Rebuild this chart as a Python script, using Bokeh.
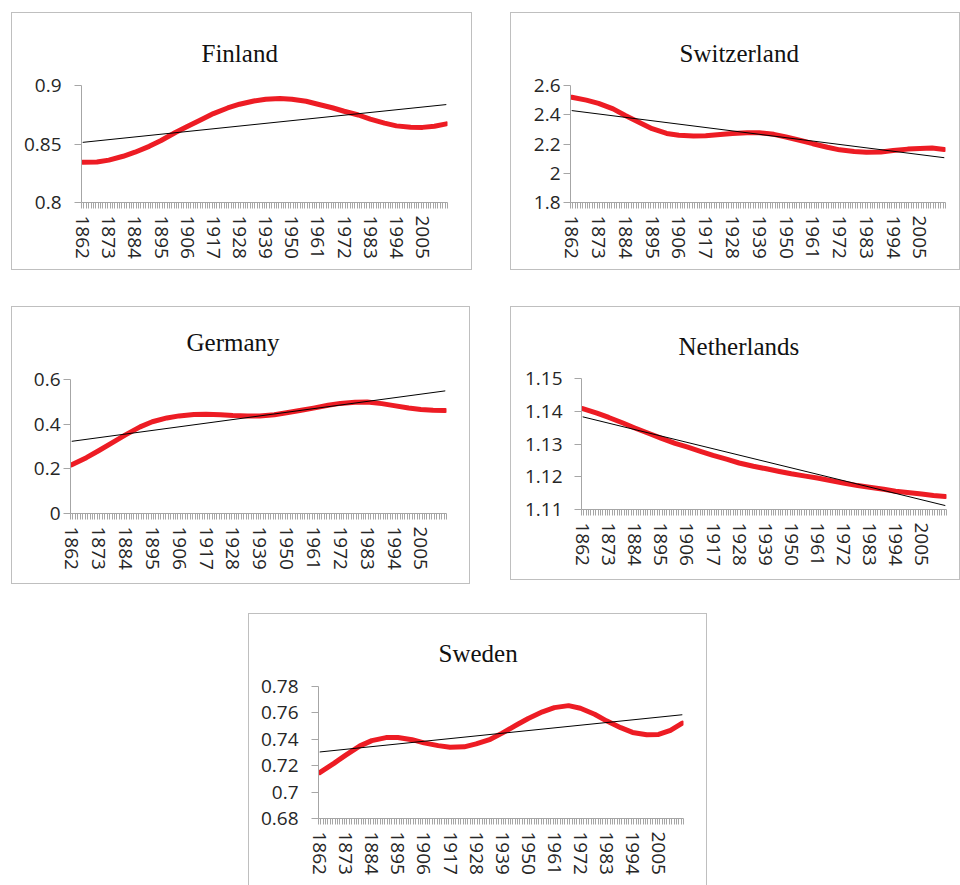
from bokeh.plotting import figure
from bokeh.models import Range1d, FixedTicker, Spacer, Label
from bokeh.layouts import row, column
from bokeh.embed import file_html
from bokeh.resources import INLINE

# ---------------- data ----------------
years = [1862, 1868, 1873, 1879, 1884, 1890, 1895, 1901, 1906, 1912, 1917, 1923,
         1928, 1934, 1939, 1945, 1950, 1956, 1961, 1967, 1972, 1978, 1983, 1989,
         1994, 2000, 2005, 2010, 2015]

finland = [0.8345, 0.8346, 0.8362, 0.8395, 0.8430, 0.8480, 0.8530, 0.8598, 0.8650,
           0.8710, 0.8760, 0.8808, 0.8840, 0.8868, 0.8883, 0.8888, 0.8883, 0.8865,
           0.8840, 0.8810, 0.8780, 0.8748, 0.8712, 0.8678, 0.8655, 0.8643, 0.8642,
           0.8652, 0.8672]

switzerland = [2.520, 2.500, 2.478, 2.440, 2.395, 2.345, 2.305, 2.272, 2.260, 2.255,
               2.257, 2.265, 2.272, 2.277, 2.277, 2.266, 2.248, 2.224, 2.202, 2.178,
               2.160, 2.148, 2.144, 2.146, 2.155, 2.165, 2.170, 2.172, 2.163]

germany = [0.218, 0.250, 0.281, 0.320, 0.352, 0.388, 0.411, 0.428, 0.437, 0.443,
           0.444, 0.442, 0.439, 0.437, 0.437, 0.442, 0.451, 0.462, 0.472, 0.485,
           0.493, 0.498, 0.499, 0.492, 0.483, 0.472, 0.466, 0.462, 0.461]

netherlands = [1.1408, 1.1394, 1.1381, 1.1364, 1.1349, 1.1332, 1.1318, 1.1302, 1.1291,
               1.1277, 1.1265, 1.1253, 1.1242, 1.1232, 1.1225, 1.1216, 1.1209, 1.1202,
               1.1196, 1.1188, 1.1181, 1.1173, 1.1168, 1.1162, 1.1156, 1.1151, 1.1147,
               1.1143, 1.1140]

sweden = [0.7148, 0.7218, 0.7280, 0.7350, 0.7390, 0.7413, 0.7414, 0.7397, 0.7373,
          0.7352, 0.7340, 0.7343, 0.7365, 0.7400, 0.7447, 0.7508, 0.7558, 0.7608,
          0.7640, 0.7655, 0.7635, 0.7590, 0.7540, 0.7488, 0.7452, 0.7434, 0.7437,
          0.7468, 0.7523]

trend_years = [1862, 2015]
finland_trend = [0.8514, 0.8837]
switzerland_trend = [2.4286, 2.1063]
germany_trend = [0.3232, 0.5491]
netherlands_trend = [1.1383, 1.1112]
sweden_trend = [0.7304, 0.7586]

first_year, last_year = 1862, 2015
label_years = [1862, 1873, 1884, 1895, 1906, 1917, 1928, 1939, 1950, 1961, 1972,
               1983, 1994, 2005]

finland_ticks = [0.8, 0.85, 0.9]
finland_tick_labels = ["0.8", "0.85", "0.9"]
switzerland_ticks = [1.8, 2.0, 2.2, 2.4, 2.6]
switzerland_tick_labels = ["1.8", "2", "2.2", "2.4", "2.6"]
germany_ticks = [0.0, 0.2, 0.4, 0.6]
germany_tick_labels = ["0", "0.2", "0.4", "0.6"]
netherlands_ticks = [1.11, 1.12, 1.13, 1.14, 1.15]
netherlands_tick_labels = ["1.11", "1.12", "1.13", "1.14", "1.15"]
sweden_ticks = [0.68, 0.70, 0.72, 0.74, 0.76, 0.78]
sweden_tick_labels = ["0.68", "0.7", "0.72", "0.74", "0.76", "0.78"]

# ---------------- styling ----------------
RED = "#ED1C24"
AXIS = "#a6a6a6"
LABEL = "#262626"
BOX = "#bfbfbf"
TICK_FONT = "Open Sans"
TICK_SIZE = "19px"
TITLE_FONT = "Liberation Serif"

boundaries = [first_year - 0.5 + i for i in range(last_year - first_year + 2)]


def panel(name, values, trend, yticks, ylabels, box, plot, ystand, title_pos):
    # box: figure (x0, y0, x1, y1) in page px; plot: data area (left, top, right, bottom)
    x0, y0, x1, y1 = box
    fl, ft, fr, fb = plot
    w, h = x1 - x0, y1 - y0
    lo, hi = yticks[0], yticks[-1]
    # frame reaches the top of the panel so the title can sit inside it;
    # the axis itself is bounded to the data range
    y_end = lo + (hi - lo) * (fb - y0) / (fb - ft)
    p = figure(width=w, height=h, output_backend="svg", toolbar_location=None,
               x_range=Range1d(first_year - 0.5, last_year + 0.5),
               y_range=Range1d(lo, y_end),
               min_border_left=fl - x0, min_border_right=x1 - fr,
               min_border_top=0, min_border_bottom=y1 - fb,
               background_fill_color="white", border_fill_color="white",
               styles={"box-shadow": "0 0 0 1px " + BOX})
    p.grid.visible = False
    p.outline_line_color = None

    p.line(years, values, line_width=5, color=RED, line_cap="round", line_join="round")
    p.line(trend_years, trend, line_width=1, color="black")

    tx, ty = title_pos
    p.add_layout(Label(x=tx - fl, y=fb - ty, x_units="screen", y_units="screen",
                       text=name, text_font=TITLE_FONT, text_font_size="25px",
                       text_color="#111111", text_align="left",
                       text_baseline="alphabetic"))

    xa = p.xaxis[0]
    xa.ticker = FixedTicker(ticks=label_years, minor_ticks=boundaries)
    xa.major_tick_out = 0
    xa.major_tick_in = 0
    xa.minor_tick_out = 6
    xa.minor_tick_in = 0
    xa.minor_tick_line_color = AXIS
    xa.axis_line_color = AXIS
    xa.major_label_orientation = "vertical"
    xa.major_label_standoff = 7
    xa.major_label_text_font = TICK_FONT
    xa.major_label_text_font_size = TICK_SIZE
    xa.major_label_text_color = LABEL

    ya = p.yaxis[0]
    ya.bounds = (lo, hi)
    ya.ticker = FixedTicker(ticks=yticks)
    ya.major_label_overrides = {t: s for t, s in zip(yticks, ylabels)}
    ya.major_tick_out = 7
    ya.major_tick_in = 0
    ya.minor_tick_out = 0
    ya.minor_tick_in = 0
    ya.major_tick_line_color = AXIS
    ya.axis_line_color = AXIS
    ya.major_label_standoff = ystand
    ya.major_label_text_font = TICK_FONT
    ya.major_label_text_font_size = TICK_SIZE
    ya.major_label_text_color = LABEL
    return p


p1 = panel("Finland", finland, finland_trend, finland_ticks, finland_tick_labels,
           (12, 13, 471, 269), (81, 85, 447, 202), 13, (201, 53))
p2 = panel("Switzerland", switzerland, switzerland_trend, switzerland_ticks,
           switzerland_tick_labels,
           (511, 13, 959, 269), (570, 85, 945, 202), 3, (679, 53))
p3 = panel("Germany", germany, germany_trend, germany_ticks, germany_tick_labels,
           (12, 307, 469, 583), (70, 379, 446, 513), 3, (186, 342))
p4 = panel("Netherlands", netherlands, netherlands_trend, netherlands_ticks,
           netherlands_tick_labels,
           (511, 307, 959, 579), (581, 378, 946, 509), 12, (678, 346))
p5 = panel("Sweden", sweden, sweden_trend, sweden_ticks, sweden_tick_labels,
           (249, 614, 706, 885), (318, 686, 683, 818), 13, (438, 653))

layout = column(
    Spacer(height=13),
    row(Spacer(width=12), p1, Spacer(width=40), p2),
    Spacer(height=38),
    row(Spacer(width=12), p3, Spacer(width=42), p4),
    Spacer(height=31),
    row(Spacer(width=249), p5),
)

open("out.html", "w").write(file_html(layout, INLINE))
